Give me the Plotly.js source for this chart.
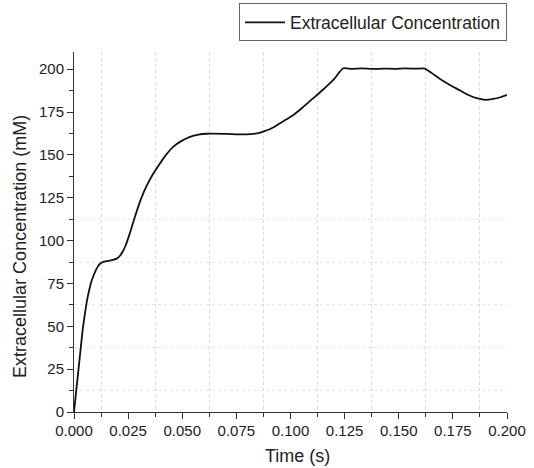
<!DOCTYPE html>
<html><head><meta charset="utf-8">
<script src="https://cdn.plot.ly/plotly-3.0.1.min.js"></script>
<style>html,body{margin:0;padding:0;background:#fff;}#c{width:534px;height:468px;}</style>
</head><body><div id="c"></div>
<script>
var seriesName = "Extracellular Concentration";
var xTitle = "Time (s)";
var yTitle = "Extracellular Concentration (mM)";
var time = [0, 0.001, 0.002, 0.003, 0.004, 0.005, 0.006, 0.007, 0.008, 0.009, 0.010, 0.011, 0.012, 0.0135, 0.015, 0.0166, 0.018, 0.0195, 0.0205, 0.0215, 0.0225, 0.0236, 0.0245, 0.0258, 0.027, 0.029, 0.031, 0.0336, 0.0365, 0.0397, 0.0425, 0.0458, 0.0495, 0.0536, 0.0575, 0.0613, 0.0705, 0.078, 0.0845, 0.088, 0.092, 0.0965, 0.101, 0.1055, 0.110, 0.115, 0.120, 0.1243, 0.128, 0.133, 0.138, 0.143, 0.148, 0.153, 0.158, 0.162, 0.1667, 0.170, 0.174, 0.178, 0.1817, 0.1855, 0.190, 0.1936, 0.197, 0.2];
var conc = [0, 12, 24, 36, 48, 57, 65, 71, 76, 79.5, 82.5, 84.8, 86.5, 87.6, 88, 88.3, 88.7, 89.3, 90.2, 91.6, 93.6, 96.4, 99.4, 104.3, 109.2, 117.3, 124.5, 132, 138.8, 145, 150, 154.7, 158, 160.5, 161.8, 162.3, 162.2, 161.9, 162.5, 163.8, 166, 169.5, 173, 177.5, 182.5, 188, 194, 200.5, 200.2, 200.4, 200.1, 200.3, 200.2, 200.4, 200.3, 200.3, 196.4, 193.5, 190.5, 187.8, 185.2, 183.2, 182.1, 182.6, 183.6, 185];
var xTickVals = [0, 0.025, 0.05, 0.075, 0.1, 0.125, 0.15, 0.175, 0.2];
var xTickText = ["0.000","0.025","0.050","0.075","0.100","0.125","0.150","0.175","0.200"];
var yTickVals = [0, 25, 50, 75, 100, 125, 150, 175, 200];
var yGridMax = 112.5;

var mid = function (v) { var o = []; for (var i = 0; i < v.length - 1; i++) o.push((v[i] + v[i + 1]) / 2); return o; };
var xMinor = mid(xTickVals);
var yMinor = mid(yTickVals).concat([yTickVals[yTickVals.length - 1] + (yTickVals[1] - yTickVals[0]) / 2]);
var yGrid = yMinor.filter(function (v) { return v <= yGridMax; });

var font = "Liberation Sans, Arial, sans-serif";
var trace = {x: time, y: conc, type: "scatter", mode: "lines", name: seriesName,
  line: {color: "#111", width: 1.8, shape: "spline", smoothing: 0.5}};
var layout = {
  width: 534, height: 468,
  margin: {l: 74, r: 27, t: 52, b: 56, autoexpand: false},
  paper_bgcolor: "#fff", plot_bgcolor: "#fff",
  font: {family: font, size: 15, color: "#222"},
  showlegend: true,
  legend: {x: 1, xanchor: "right", y: 1.135, yanchor: "top", bordercolor: "#666", borderwidth: 1,
    font: {family: font, size: 17.5, color: "#222"}, itemwidth: 40, bgcolor: "#fff"},
  xaxis: {range: [0, 0.2], tickvals: xTickVals, ticktext: xTickText, ticks: "outside", ticklen: 6,
    tickcolor: "#333", showline: true, linecolor: "#333", linewidth: 1, showgrid: false, zeroline: false,
    tickfont: {size: 15, color: "#222"}, ticklabelstandoff: -1,
    minor: {tickmode: "array", tickvals: xMinor, ticks: "outside", ticklen: 4, tickcolor: "#333", showgrid: true,
      gridcolor: "#d9d9d9", griddash: "dot", gridwidth: 1}},
  yaxis: {range: [0, 210], tickvals: yTickVals, ticks: "outside", ticklen: 6, tickcolor: "#333",
    showline: true, linecolor: "#333", linewidth: 1, showgrid: false, zeroline: false,
    tickfont: {size: 15, color: "#222"},
    minor: {tickmode: "array", tickvals: yMinor, ticks: "outside", ticklen: 4, tickcolor: "#333", showgrid: false}},
  yaxis2: {overlaying: "y", matches: "y", range: [0, 210], tickvals: yGrid, showticklabels: false, ticks: "",
    showgrid: true, gridcolor: "#e6e6e6", griddash: "dot", gridwidth: 1, zeroline: false, showline: false},
  annotations: [
    {text: xTitle, xref: "paper", yref: "paper", x: 0.516, y: -0.122, xanchor: "center", yanchor: "middle",
      showarrow: false, font: {family: font, size: 18, color: "#222"}},
    {text: yTitle, xref: "paper", yref: "paper", x: -0.125, y: 0.461, xanchor: "center", yanchor: "middle",
      textangle: -90, showarrow: false, font: {family: font, size: 18, color: "#222"}}
  ]
};
var gridTrace = {x: [], y: [], yaxis: "y2", showlegend: false, type: "scatter", hoverinfo: "skip"};
Plotly.newPlot("c", [gridTrace, trace], layout, {displayModeBar: false, staticPlot: true});
</script></body></html>
